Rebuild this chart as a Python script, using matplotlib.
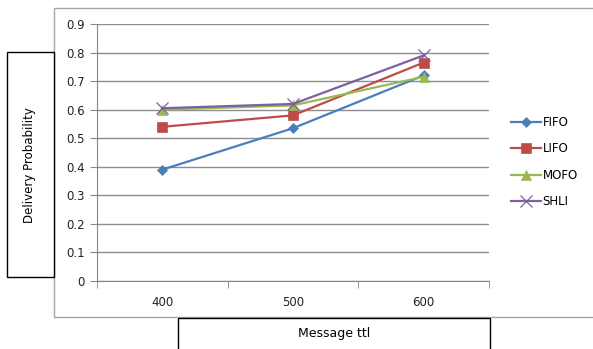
import matplotlib
matplotlib.use("Agg")
import matplotlib.pyplot as plt
from matplotlib.patches import Rectangle

categories = ["400", "500", "600"]
fifo = [0.39, 0.535, 0.72]
lifo = [0.54, 0.58, 0.765]
mofo = [0.60, 0.615, 0.715]
shli = [0.605, 0.62, 0.79]
y_ticks = [0, 0.1, 0.2, 0.3, 0.4, 0.5, 0.6, 0.7, 0.8, 0.9]

W, H = 593, 349
fig = plt.figure(figsize=(W / 100, H / 100), dpi=100)
plt.rcParams["font.family"] = "DejaVu Sans"


def fx(px):
    return px / W


def fy(py):
    return 1 - py / H


# chart-area frame and the boxed axis titles
fig.patches.append(Rectangle((fx(54), fy(317)), fx(560), fy(8) - fy(317),
                             transform=fig.transFigure, fill=False,
                             edgecolor="#a6a6a6", lw=1.0))
fig.patches.append(Rectangle((fx(7), fy(277)), fx(47), fy(52) - fy(277),
                             transform=fig.transFigure, facecolor="white",
                             edgecolor="black", lw=1.0))
fig.patches.append(Rectangle((fx(178), fy(360)), fx(312), fy(318) - fy(360),
                             transform=fig.transFigure, facecolor="white",
                             edgecolor="black", lw=1.0))
fig.text(fx(30), fy(165), "Delivery Probability", rotation=90,
         ha="center", va="center", fontsize=8.5, color="black")
fig.text(fx(334), fy(333), "Message ttl", ha="center", va="center",
         fontsize=9, color="black")

ax = fig.add_axes([fx(97), fy(281), fx(489 - 97), fy(24) - fy(281)])
x = range(len(categories))
series = [
    ("FIFO", fifo, "#4a7ebb", "D", 5.5),
    ("LIFO", lifo, "#be4b48", "s", 7),
    ("MOFO", mofo, "#98b954", "^", 7.5),
    ("SHLI", shli, "#7d60a0", "x", 8),
]
handles = []
for name, vals, col, mk, ms in series:
    ln, = ax.plot(x, vals, color=col, lw=1.6, marker=mk, markersize=ms,
                  markeredgewidth=0.9 if mk == "x" else 0.5,
                  markeredgecolor=col, markerfacecolor=col, label=name)
    handles.append(ln)

ax.set_xlim(-0.5, 2.5)
ax.set_ylim(0, 0.9)
ax.set_yticks(y_ticks)
ax.set_yticklabels([f"{v:g}" for v in y_ticks])
ax.set_xticks(list(x))
ax.set_xticklabels(categories)
ax.set_xticks([-0.5, 0.5, 1.5, 2.5], minor=True)
ax.tick_params(axis="x", which="major", length=0, pad=11, labelsize=8.5,
               labelcolor="#222222")
ax.tick_params(axis="x", which="minor", length=5, direction="out",
               color="#868686")
ax.tick_params(axis="y", length=5, direction="out", color="#868686",
               labelsize=8.5, labelcolor="#222222", pad=4)
ax.grid(axis="y", color="#8c8c8c", lw=1.0)
ax.set_axisbelow(True)
for s in ("top", "right"):
    ax.spines[s].set_visible(False)
for s in ("left", "bottom"):
    ax.spines[s].set_color("#868686")

leg = fig.legend(handles=handles, loc="center left",
                 bbox_to_anchor=(fx(506), fy(162)), frameon=False,
                 fontsize=8.5, handlelength=2.6, labelspacing=1.15,
                 handletextpad=0.1, borderaxespad=0)

fig.savefig("out.png", dpi=100)
